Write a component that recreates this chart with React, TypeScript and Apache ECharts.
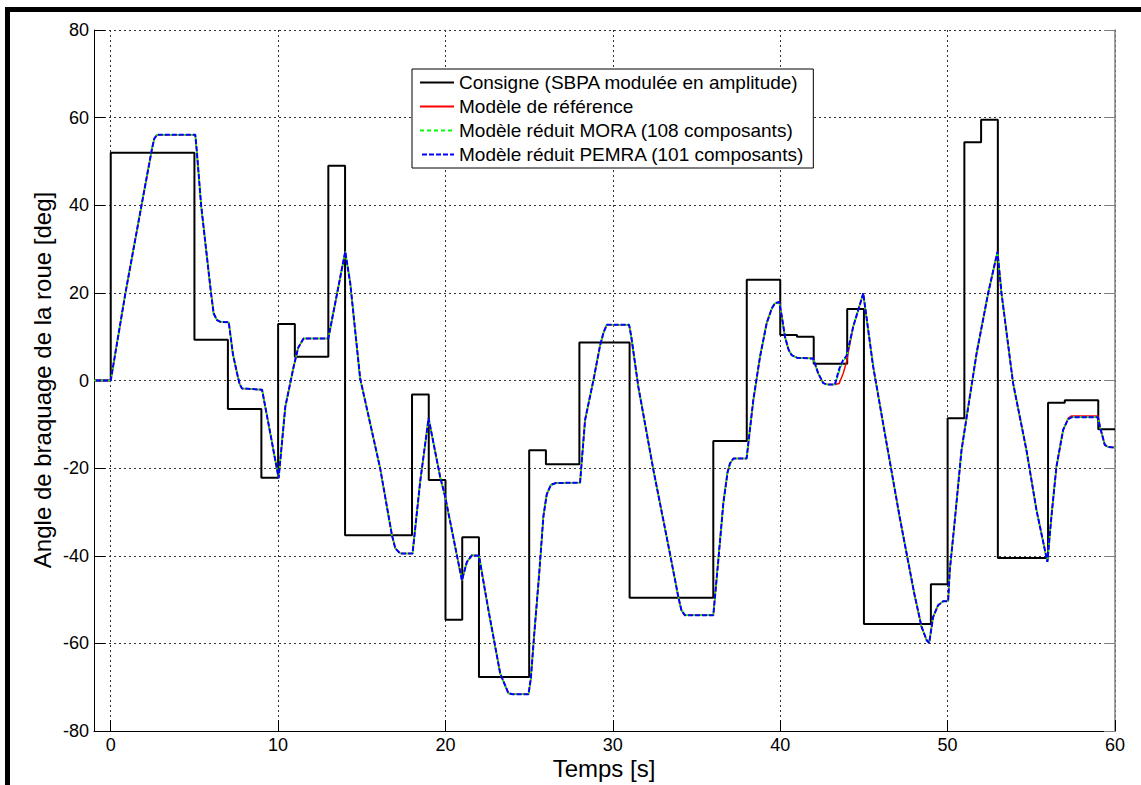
import React, { useEffect, useRef } from "react";
import * as echarts from "echarts";

// Consigne (step signal): value holds from t[i] until t[i+1]
const consigneT = [
  -1, 0, 5, 7, 9, 10, 11, 13, 14, 18,
  19, 20, 21, 22, 25, 26, 28, 31, 36, 38,
  40, 41, 42, 44, 45, 49, 50, 51, 52, 53,
  56, 57, 59, 60,
];
const consigneV = [
  0, 52, 9.3, -6.5, -22.2, 12.9, 5.4, 49, -35.3, -3.2,
  -22.7, -54.6, -35.8, -67.7, -15.9, -19.1, 8.7, -49.6, -13.8, 23,
  10.4, 10.0, 3.8, 16.3, -55.6, -46.5, -8.6, 54.4, 59.5, -40.5,
  -5.1, -4.5, -11.1, -11.1,
];

// Response time samples shared by the three model curves
const respT = [
  -1, 0, 0.88, 1.84, 2.47, 2.6, 2.77, 5.05, 5.15, 5.4,
  5.99, 6.15, 6.35, 6.55, 7.05, 7.3, 7.55, 7.7, 7.84, 9.04,
  9.53, 10.03, 10.43, 10.93, 11.2, 11.52, 13.0, 13.52, 14.01, 14.31,
  14.9, 15.5, 16.1, 16.8, 17.0, 17.3, 18.03, 18.49, 18.99, 19.68,
  19.98, 20.98, 21.28, 21.58, 22.0, 22.57, 23.27, 23.76, 24.0, 24.96,
  25.1, 25.3, 25.6, 25.85, 26.05, 26.3, 26.6, 28.04, 28.34, 28.84,
  29.24, 29.45, 29.63, 30.97, 31.1, 31.52, 32.42, 33.41, 33.91, 34.1,
  34.31, 36.0, 36.3, 36.6, 36.85, 37.0, 37.2, 37.99, 38.39, 38.79,
  39.19, 39.5, 39.68, 39.94, 40.1, 40.28, 40.5, 40.68, 41.0, 41.97,
  42.27, 42.57, 42.8, 43.27, 43.52, 43.76, 43.96, 44.36, 44.96, 45.55,
  46.25, 47.15, 48.0, 48.44, 48.75, 48.9, 49.13, 49.43, 49.73, 50.03,
  50.13, 50.43, 50.83, 51.73, 52.42, 52.98, 53.22, 53.91, 54.71, 55.31,
  55.96, 56.2, 56.5, 56.9, 57.2, 57.4, 58.98, 59.1, 59.39, 59.6,
  60,
];

const referenceV = [
  0, 0, 20, 40, 53, 55.2, 56.1, 56.1, 52, 40,
  20, 15.3, 13.8, 13.4, 13.3, 6, 1.6, -0.8, -1.8, -2.1,
  -12, -22.3, -6, 3.2, 7.5, 9.6, 9.6, 19.8, 29.4, 22.2,
  0.5, -9.8, -20.1, -35.3, -38.3, -39.5, -39.5, -23, -8.6, -22,
  -26.5, -45.6, -41.4, -39.9, -40, -52.5, -66.9, -71.4, -71.6, -71.6,
  -68, -58, -44, -31, -26, -23.8, -23.4, -23.3, -9, 0.1,
  8.1, 11, 12.7, 12.7, 10, -1.4, -20.4, -39.5, -49.4, -52.5,
  -53.6, -53.6, -41, -28, -21, -18.9, -17.8, -17.8, -4.5, 5.4,
  13.1, 16.5, 17.6, 17.9, 14.5, 10, 7, 5.8, 5.2, 5.0,
  1.6, -0.6, -0.9, -0.9, -0.7, 1.6, 4.3, 12.3, 19.9, 3.2,
  -12.1, -31.5, -48.5, -56.2, -59.3, -59.9, -54, -51.3, -50.4, -50.4,
  -43.3, -31.9, -15.9, 6.2, 19.9, 29.4, 19.9, -0.6, -15.9, -29.6,
  -41.4, -31.1, -19.7, -11.3, -8.6, -8.1, -8.1, -10.5, -14.7, -15.2,
  -15.3,
];

const moraV = [
  0, 0, 20, 40, 53, 55.2, 56.1, 56.1, 52, 40,
  20, 15.3, 13.8, 13.4, 13.3, 6, 1.6, -0.8, -1.8, -2.1,
  -12, -22.3, -6, 3.2, 7.5, 9.6, 9.6, 19.8, 29.4, 22.2,
  0.5, -9.8, -20.1, -35.3, -38.3, -39.5, -39.5, -23, -8.6, -22,
  -26.5, -45.6, -41.4, -39.9, -40, -52.5, -66.9, -71.4, -71.6, -71.6,
  -68, -58, -44, -31, -26, -23.8, -23.4, -23.3, -9, 0.1,
  8.1, 11, 12.7, 12.7, 10, -1.4, -20.4, -39.5, -49.4, -52.5,
  -53.6, -53.6, -41, -28, -21, -18.9, -17.8, -17.8, -4.5, 5.4,
  13.1, 16.5, 17.6, 17.9, 14.5, 10, 7, 5.8, 5.2, 5.0,
  1.6, -0.6, -0.9, -0.9, 2.0, 4.4, 5.4, 12.3, 19.9, 3.2,
  -12.1, -31.5, -48.5, -56.2, -59.3, -59.9, -54, -51.3, -50.4, -50.4,
  -43.3, -31.9, -15.9, 6.2, 19.9, 29.4, 19.9, -0.6, -15.9, -29.6,
  -41.4, -31.1, -19.7, -11.3, -8.8, -8.4, -8.4, -10.5, -14.7, -15.2,
  -15.3,
];

const pemraV = [
  0, 0, 20, 40, 53, 55.2, 56.1, 56.1, 52, 40,
  20, 15.3, 13.8, 13.4, 13.3, 6, 1.6, -0.8, -1.8, -2.1,
  -12, -22.3, -6, 3.2, 7.5, 9.6, 9.6, 19.8, 29.4, 22.2,
  0.5, -9.8, -20.1, -35.3, -38.3, -39.5, -39.5, -23, -8.6, -22,
  -26.5, -45.6, -41.4, -39.9, -40, -52.5, -66.9, -71.4, -71.6, -71.6,
  -68, -58, -44, -31, -26, -23.8, -23.4, -23.3, -9, 0.1,
  8.1, 11, 12.7, 12.7, 10, -1.4, -20.4, -39.5, -49.4, -52.5,
  -53.6, -53.6, -41, -28, -21, -18.9, -17.8, -17.8, -4.5, 5.4,
  13.1, 16.5, 17.6, 17.9, 14.5, 10, 7, 5.8, 5.2, 5.0,
  1.6, -0.6, -0.9, -0.9, 2.6, 4.7, 5.6, 12.3, 19.9, 3.2,
  -12.1, -31.5, -48.5, -56.2, -59.3, -59.9, -54, -51.3, -50.4, -50.4,
  -43.3, -31.9, -15.9, 6.2, 19.9, 29.4, 19.9, -0.6, -15.9, -29.6,
  -41.4, -31.1, -19.7, -11.3, -8.8, -8.4, -8.4, -10.5, -14.7, -15.2,
  -15.3,
];

const seriesNames = [
  "Consigne (SBPA modulée en amplitude)",
  "Modèle de référence",
  "Modèle réduit MORA (108 composants)",
  "Modèle réduit PEMRA (101 composants)",
];

const xTitle = "Temps [s]";
const yTitle = "Angle de braquage de la roue [deg]";

export default function App() {
  const ref = useRef<HTMLDivElement>(null);
  useEffect(() => {
    document.body.style.margin = "0";
    const chart = echarts.init(ref.current!, null, { renderer: "svg" });
    const font = "'Liberation Sans', Arial, Helvetica, sans-serif";
    const pairs = (t: number[], v: number[]) => t.map((x, i) => [x, v[i]]);
    const gridLine = { show: true, lineStyle: { color: "#333", width: 1, type: [2, 3] } };

    chart.setOption({
      animation: false,
      backgroundColor: "#fff",
      textStyle: { fontFamily: font },
      grid: { left: 94, top: 30, width: 1021, height: 701, containLabel: false },
      xAxis: {
        type: "value",
        min: -1,
        max: 60,
        splitNumber: 6,
        axisLine: { show: true, onZero: false, lineStyle: { color: "#000", width: 1 } },
        axisTick: { show: true, inside: true, length: 11, lineStyle: { color: "#000" } },
        axisLabel: {
          show: true,
          showMinLabel: false,
          margin: 5,
          color: "#000",
          fontSize: 18,
          fontFamily: font,
          formatter: (v: number) => (v < 0 ? "" : String(v)),
        },
        splitLine: gridLine,
      },
      yAxis: [
        {
          type: "value",
          min: -80,
          max: 80,
          interval: 20,
          axisLine: { show: true, onZero: false, lineStyle: { color: "#000", width: 1 } },
          axisTick: { show: true, inside: true, length: 11, lineStyle: { color: "#000" } },
          axisLabel: { show: true, margin: 5, color: "#000", fontSize: 18, fontFamily: font },
          splitLine: gridLine,
        },
        {
          type: "value",
          position: "right",
          min: -80,
          max: 80,
          interval: 20,
          axisLine: { show: true, onZero: false, lineStyle: { color: "#808080", width: 1.5 } },
          axisTick: { show: true, inside: true, length: 11, lineStyle: { color: "#808080" } },
          axisLabel: { show: false },
          splitLine: { show: false },
        },
      ],
      legend: {
        show: true,
        orient: "vertical",
        left: 412,
        top: 69,
        padding: [4, 9, 4, 7],
        itemGap: 5,
        itemWidth: 34,
        itemHeight: 14,
        backgroundColor: "#fff",
        borderColor: "#000",
        borderWidth: 1,
        borderRadius: 0,
        itemStyle: { color: "rgba(0,0,0,0)", borderWidth: 0, opacity: 0 },
        textStyle: { color: "#000", fontSize: 19, fontFamily: font },
        data: seriesNames,
      },
      series: [
        {
          name: seriesNames[0],
          type: "line",
          step: "end",
          data: pairs(consigneT, consigneV),
          symbol: "none",
          color: "#000",
          lineStyle: { color: "#000", width: 2 },
          z: 2,
        },
        {
          name: seriesNames[1],
          type: "line",
          data: pairs(respT, referenceV),
          symbol: "none",
          color: "#ff0000",
          lineStyle: { color: "#ff0000", width: 1.5 },
          z: 3,
        },
        {
          name: seriesNames[2],
          type: "line",
          data: pairs(respT, moraV),
          symbol: "none",
          color: "#00ff00",
          lineStyle: { color: "#00ff00", width: 1.5, type: [4, 3] },
          z: 4,
        },
        {
          name: seriesNames[3],
          type: "line",
          data: pairs(respT, pemraV),
          symbol: "none",
          color: "#0000ff",
          lineStyle: { color: "#0000ff", width: 2, type: [5, 2], dashOffset: 5 },
          z: 5,
        },
      ],
      graphic: [
        { type: "rect", left: 5, top: 7, shape: { width: 1136, height: 5 }, style: { fill: "#000" } },
        { type: "rect", left: 5, top: 7, shape: { width: 5, height: 778 }, style: { fill: "#000" } },
        {
          type: "text",
          x: 604,
          y: 768,
          style: {
            text: xTitle,
            fontSize: 24,
            fontFamily: font,
            fill: "#000",
            textAlign: "center",
            textVerticalAlign: "middle",
          },
        },
        {
          type: "text",
          x: 42,
          y: 380,
          rotation: Math.PI / 2,
          style: {
            text: yTitle,
            fontSize: 24,
            fontFamily: font,
            fill: "#000",
            textAlign: "center",
            textVerticalAlign: "middle",
          },
        },
      ],
    });
    return () => chart.dispose();
  }, []);
  return <div ref={ref} style={{ width: 1141, height: 785 }} />;
}
